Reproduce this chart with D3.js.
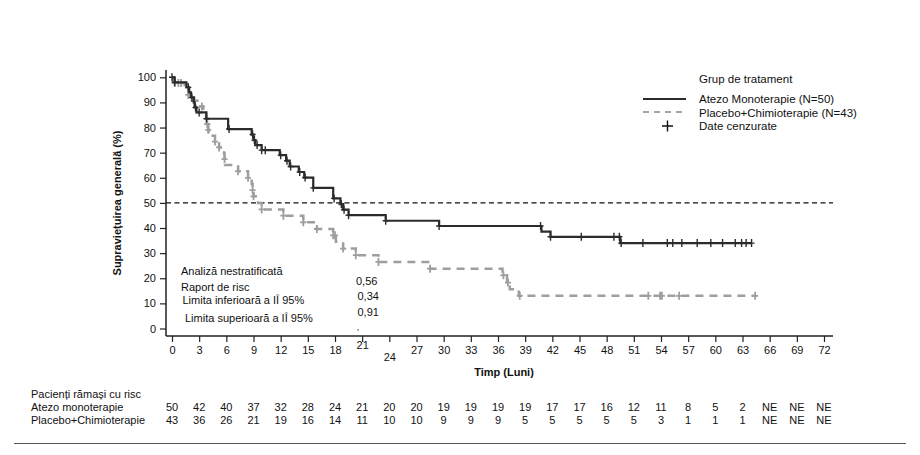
<!DOCTYPE html>
<html>
<head>
<meta charset="utf-8">
<script src="https://cdn.jsdelivr.net/npm/d3@7"></script>
<style>
  body { margin: 0; background: #fff; }
  svg text { font-family: "Liberation Sans", Arial, sans-serif; fill: #111; }
</style>
</head>
<body>
<div class="km"></div>
<script>
// Kaplan-Meier steps: [time in months, survival %]
var atezoSteps = [[0,100],[0.3,98],[1.6,96],[1.9,94],[2.1,92],[2.4,90],[2.5,88],[2.7,86],[3.8,83.5],
  [6.2,79.4],[8.8,77.2],[9.0,75],[9.2,73],[9.9,71],[11.9,69],[12.6,66.8],[13.0,64.5],[14.0,62.3],
  [14.6,60.1],[15.6,56],[17.8,51.8],[18.6,49.5],[18.9,47.3],[19.5,45.1],[23.6,42.9],[29.5,40.8],
  [40.8,38.6],[41.8,36.5],[49.5,34],[64.0,34]];
var placeboSteps = [[0,100],[0.15,97.7],[1.4,95.3],[1.8,93.0],[2.2,90.7],[3.1,88.4],[3.45,86.0],
  [3.76,83.7],[3.9,81.4],[4.0,79.1],[4.05,76.7],[4.75,74.4],[5.2,72.1],[5.75,69.8],[5.8,67.4],
  [5.85,65.1],[7.3,62.6],[8.4,60.0],[8.8,57.6],[8.9,55.1],[9.0,52.6],[9.5,50.0],[9.9,47.4],
  [12.3,44.9],[14.5,42.3],[16.0,39.6],[17.8,37.1],[18.1,34.5],[18.9,31.8],[20.3,29.2],[22.8,26.5],
  [28.5,23.8],[36.5,21.2],[37.0,18.3],[37.3,15.6],[38.3,13.0],[64.5,13.0]];

// censored observation times
var atezoCensored = [0,0.3,1.8,2.2,2.6,3.0,3.8,6.3,8.9,9.1,9.4,9.9,10.3,12.0,12.7,13.1,14.1,14.7,
  15.6,17.9,18.7,19.0,19.5,23.6,29.5,40.7,41.8,45.2,48.8,49.4,49.6,52.0,54.7,55.3,56.3,58.0,59.5,
  60.8,62.2,62.9,63.4,64.0];
var placeboCensored = [0.3,0.7,1.0,1.8,2.5,3.3,3.9,4.0,4.75,5.2,5.8,7.3,8.4,8.9,9.0,9.9,12.3,14.5,
  16.0,17.8,18.0,18.9,20.3,22.8,28.5,36.6,37.1,38.4,52.6,53.9,54.1,56.0,64.4];

var xTicks = d3.range(0, 73, 3);
var yTicks = d3.range(0, 101, 10);

var riskAtezo = ["50","42","40","37","32","28","24","21","20","20","19","19","19","19","17","17",
  "16","12","11","8","5","2","NE","NE","NE"];
var riskPlacebo = ["43","36","26","21","19","16","14","11","10","10","9","9","9","5","5","5",
  "5","5","3","1","1","1","NE","NE","NE"];

var legendLabels = ["Atezo Monoterapie (N=50)", "Placebo+Chimioterapie (N=43)", "Date cenzurate"];
var statLabels = ["Analiză nestratificată", "Raport de risc", "Limita inferioară a IÎ 95%", "Limita superioară a IÎ 95%"];
var statValues = ["0,56", "0,34", "0,91"];

var width = 920, height = 455;

var svg = d3.select(".km").append("svg")
    .attr("width", width)
    .attr("height", height);

var x = d3.scaleLinear().domain([0, 72]).range([172, 824]);
var y = d3.scaleLinear().domain([0, 100]).range([328.5, 77.3]);

var axisY = 336;

// axis lines
svg.append("line")
  .attr("x1", 166).attr("x2", 166).attr("y1", 70).attr("y2", axisY)
  .attr("stroke", "#222").attr("stroke-width", 1.5);
svg.append("line")
  .attr("x1", 166).attr("x2", 833).attr("y1", axisY).attr("y2", axisY)
  .attr("stroke", "#222").attr("stroke-width", 1.5);

// y ticks
var yAxis = d3.axisLeft(y).tickValues(yTicks).tickSize(6).tickPadding(4).tickSizeOuter(0);
var gy = svg.append("g").attr("transform", "translate(166,0)").call(yAxis);
gy.select(".domain").remove();
gy.selectAll("line").attr("stroke", "#222").attr("stroke-width", 1.2);
gy.selectAll("text").style("font-size", "11px").attr("fill", "#111")
  .style("font-family", "Liberation Sans, Arial, sans-serif");

// x ticks
var xAxis = d3.axisBottom(x).tickValues(xTicks).tickSize(6).tickPadding(4).tickSizeOuter(0);
var gx = svg.append("g").attr("transform", "translate(0," + axisY + ")").call(xAxis);
gx.select(".domain").remove();
gx.selectAll("line").attr("stroke", "#222").attr("stroke-width", 1.2);
gx.selectAll("text").style("font-size", "11px").attr("fill", "#111")
  .style("font-family", "Liberation Sans, Arial, sans-serif")
  .attr("dy", function(d) { return d == 21 ? "0.25em" : d == 24 ? "1.4em" : "0.71em"; });

// axis titles
svg.append("text")
  .attr("transform", "translate(121,203) rotate(-90)")
  .attr("text-anchor", "middle")
  .style("font-size", "11px").style("font-weight", "bold")
  .text("Supraviețuirea generală (%)");
svg.append("text")
  .attr("x", 504).attr("y", 376)
  .attr("text-anchor", "middle")
  .style("font-size", "11px").style("font-weight", "bold")
  .text("Timp (Luni)");

// 50% reference line
svg.append("line")
  .attr("x1", 166).attr("x2", 833).attr("y1", y(50)).attr("y2", y(50))
  .attr("stroke", "#111").attr("stroke-width", 1.2).attr("stroke-dasharray", "5,3.5");

var stepLine = d3.line()
  .x(function(d) { return x(d[0]); })
  .y(function(d) { return y(d[1]); })
  .curve(d3.curveStepAfter);

function survAt(steps, t) {
  var s = steps[0][1];
  steps.forEach(function(d) { if (d[0] <= t) s = d[1]; });
  return s;
}

function plus(g, data, steps, color, w) {
  g.selectAll("path.cens")
    .data(data)
    .enter()
    .append("path")
    .attr("class", "cens")
    .attr("d", function(t) {
      var cx = x(t), cy = y(survAt(steps, t));
      return "M" + (cx - 3) + "," + cy + "H" + (cx + 3) + "M" + cx + "," + (cy - 4) + "V" + (cy + 4);
    })
    .attr("stroke", color)
    .attr("stroke-width", w)
    .attr("fill", "none");
}

// placebo (grey dashed)
var gp = svg.append("g");
gp.append("path")
  .datum(placeboSteps)
  .attr("fill", "none")
  .attr("stroke", "#9e9e9e")
  .attr("stroke-width", 2.5)
  .attr("stroke-dasharray", "8,6")
  .attr("d", stepLine);
plus(gp, placeboCensored, placeboSteps, "#9e9e9e", 1.8);

// atezo (black solid)
var ga = svg.append("g");
ga.append("path")
  .datum(atezoSteps)
  .attr("fill", "none")
  .attr("stroke", "#2b2b2b")
  .attr("stroke-width", 2.2)
  .attr("d", stepLine);
plus(ga, atezoCensored, atezoSteps, "#2b2b2b", 1.4);

// legend
var legend = svg.append("g").attr("class", "legend");
legend.append("text").attr("x", 699).attr("y", 83).style("font-size", "11.5px").text("Grup de tratament");
legend.append("line").attr("x1", 643).attr("x2", 686).attr("y1", 99).attr("y2", 99)
  .attr("stroke", "#2b2b2b").attr("stroke-width", 2);
legend.append("line").attr("x1", 643).attr("x2", 686).attr("y1", 112).attr("y2", 112)
  .attr("stroke", "#a5a5a5").attr("stroke-width", 2).attr("stroke-dasharray", "6,5");
legend.append("path").attr("d", "M662,126H673M667.5,120.5V131.5")
  .attr("stroke", "#111").attr("stroke-width", 1.4);
legend.selectAll("text.lab")
  .data(legendLabels)
  .enter()
  .append("text")
  .attr("class", "lab")
  .attr("x", 699)
  .attr("y", function(d, i) { return 103 + i * 13.7; })
  .style("font-size", "11.5px")
  .text(function(d) { return d; });

// hazard ratio box
var statX = [181, 181, 182.5, 185];
var statY = [275, 291, 304, 322];
svg.selectAll("text.stat")
  .data(statLabels)
  .enter()
  .append("text")
  .attr("class", "stat")
  .attr("x", function(d, i) { return statX[i]; })
  .attr("y", function(d, i) { return statY[i]; })
  .style("font-size", "11px")
  .text(function(d) { return d; });
var valY = [284.5, 299.5, 315.5];
svg.selectAll("text.val")
  .data(statValues)
  .enter()
  .append("text")
  .attr("class", "val")
  .attr("x", function(d, i) { return i == 0 ? 356 : 357.5; })
  .attr("y", function(d, i) { return valY[i]; })
  .style("font-size", "11px")
  .text(function(d) { return d; });
svg.append("text").attr("x", 358).attr("y", 330).attr("text-anchor", "middle")
  .style("font-size", "9px").text(",");

// numbers at risk
svg.append("text").attr("x", 31).attr("y", 398).style("font-size", "11px").text("Pacienți rămași cu risc");
svg.append("text").attr("x", 31).attr("y", 411).style("font-size", "11px").text("Atezo monoterapie");
svg.append("text").attr("x", 31).attr("y", 424).style("font-size", "11px").text("Placebo+Chimioterapie");

function riskRow(data, yy) {
  svg.append("g").selectAll("text")
    .data(data)
    .enter()
    .append("text")
    .attr("x", function(d, i) { return x(xTicks[i]); })
    .attr("y", yy)
    .attr("text-anchor", "middle")
    .style("font-size", "11px")
    .text(function(d) { return d; });
}
riskRow(riskAtezo, 411);
riskRow(riskPlacebo, 424);

// bottom rule
svg.append("line")
  .attr("x1", 14).attr("x2", 906).attr("y1", 443.5).attr("y2", 443.5)
  .attr("stroke", "#555").attr("stroke-width", 1);
</script>
</body>
</html>
